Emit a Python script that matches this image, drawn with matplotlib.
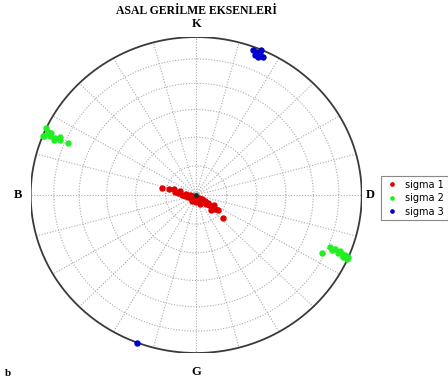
import numpy as np
import matplotlib
matplotlib.use("Agg")
import matplotlib.pyplot as plt

# trend / plunge (degrees) of principal stress axes
s1_trend = [282, 283, 278, 277, 270, 265, 256, 239, 208, 171, 149, 137, 134, 129, 128, 128, 132,
            270, 252, 138, 126, 126, 125, 158, 182, 276, 284, 137, 120, 214, 126, 286]
s1_plunge = [72.8, 76.3, 79.5, 81.0, 83.0, 84.5, 85.9, 87.0, 87.7, 87.4, 86.4, 85.1, 83.3, 81.9, 80.1, 78.3, 72.3,
             87.0, 88.4, 87.9, 86.5, 84.7, 82.9, 85.0, 86.4, 85.0, 81.8, 79.4, 79.9, 86.3, 76.8, 78.7]

s2_trend = [292, 293, 293, 293, 293, 295, 294, 294, 292, 292, 294,
            112, 112, 112, 113, 113, 114, 113, 113, 116, 114, 113]
s2_plunge = [0.5, 4.3, 8.2, 11.6, 16.7, 0.2, 2.5, 4.4, 7.9, 1.1, 10.7,
             13.8, 10.4, 6.9, 3.0, 0.2, 3.4, 7.5, 11.9, 16.7, 0.5, 5.0]

s3_trend = [20.5, 21.8, 23.4, 24.8, 23.1, 21.8, 23.1, 22.5, 201]
s3_plunge = [2.3, 2.9, 3.2, 4.3, 5.6, 5.1, 0.2, 3.8, 0.0]

labels = ["sigma 1", "sigma 2", "sigma 3"]
colors = ["#e00000", "#22ee22", "#0000d0"]


def project(trend, plunge):
    # lower hemisphere equal-area (Schmidt) projection
    t = np.radians(trend)
    p = np.radians(plunge)
    r = np.sqrt(2) * np.sin((np.pi / 2 - p) / 2)
    return r * np.sin(t), r * np.cos(t)


fig = plt.figure(figsize=(4.48, 3.83), dpi=100)
ax = fig.add_axes([0.0685, 0.0783, 0.739, 0.825])
ax.set_xlim(-1, 1)
ax.set_ylim(-1, 1)
ax.axis("off")

# grid: small circles every 15 deg of plunge, radials every 15 deg of trend
th = np.linspace(0, 2 * np.pi, 361)
for pl in [15, 30, 45, 60, 75]:
    r = np.sqrt(2) * np.sin(np.radians(90 - pl) / 2)
    ax.plot(r * np.cos(th), r * np.sin(th), color="#aaaaaa", lw=0.8, ls=(0, (1, 1.5)))
for az in range(0, 360, 15):
    a = np.radians(az)
    ax.plot([0, np.sin(a)], [0, np.cos(a)], color="#aaaaaa", lw=0.8, ls=(0, (1, 1.5)))

ax.plot(np.cos(th), np.sin(th), color="#3a3a3a", lw=1.3)

for tr, pl, lab, col in zip([s1_trend, s2_trend, s3_trend], [s1_plunge, s2_plunge, s3_plunge], labels, colors):
    x, y = project(np.array(tr), np.array(pl))
    ax.plot(x, y, "o", color=col, ms=3.6, mec=col, ls="none", clip_on=False, label=lab)

ax.plot([0], [0], "o", color="#222222", ms=2.5)

serif = ["Liberation Serif", "DejaVu Serif"]
ax.text(0, 1.085, "K", ha="center", va="center", fontsize=9, fontweight="bold", family=serif)
ax.text(0, -1.12, "G", ha="center", va="center", fontsize=9, fontweight="bold", family=serif)
ax.text(-1.077, 0, "B", ha="center", va="center", fontsize=9, fontweight="bold", family=serif)
ax.text(1.05, 0, "D", ha="center", va="center", fontsize=9, fontweight="bold", family=serif)

fig.text(196 / 448, 1 - 11 / 383, "ASAL GERİLME EKSENLERİ", ha="center", va="center",
         fontsize=8.5, fontweight="bold", family=serif)
fig.text(8 / 448, 1 - 373 / 383, "b", ha="center", va="center", fontsize=8, fontweight="bold", family=serif)

handles, labs = ax.get_legend_handles_labels()
leg = fig.legend(handles, labs, loc="upper left", bbox_to_anchor=(376 / 448, 1 - 171 / 383),
                 bbox_transform=fig.transFigure, fontsize=7, markerscale=0.65, fancybox=False,
                 edgecolor="#888888", framealpha=1, borderpad=0.4, handlelength=1.5,
                 handletextpad=0.6, labelspacing=0.35)
leg.get_frame().set_linewidth(0.8)

fig.savefig("out.png", dpi=100)
